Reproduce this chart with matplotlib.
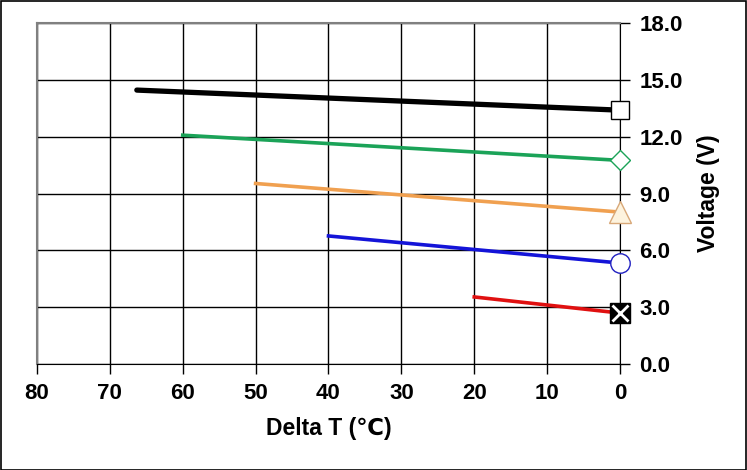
import matplotlib.pyplot as plt
from matplotlib.patches import Rectangle

plt.rcParams['font.family'] = ['Liberation Sans', 'DejaVu Sans', 'Noto Sans CJK SC']

# series: start delta T -> end at 0
black_x = [66.3, 0]
black_y = [14.46, 13.4]
green_x = [60, 0]
green_y = [12.08, 10.75]
orange_x = [50, 0]
orange_y = [9.53, 8.02]
blue_x = [40, 0]
blue_y = [6.76, 5.33]
red_x = [20, 0]
red_y = [3.54, 2.69]

x_ticks = [80, 70, 60, 50, 40, 30, 20, 10, 0]
y_ticks = [0.0, 3.0, 6.0, 9.0, 12.0, 15.0, 18.0]

fig = plt.figure(figsize=(7.47, 4.70), dpi=100)
fig.patches.append(Rectangle((0.001, 0.001), 0.997, 0.996, transform=fig.transFigure,
                             fill=False, edgecolor='black', linewidth=1.2))
ax = fig.add_axes([0.0495, 0.2255, 0.7805, 0.7255])

ax.plot(black_x, black_y, color='black', linewidth=3.8, solid_capstyle='round', zorder=3)
ax.plot(green_x, green_y, color='#1ba358', linewidth=2.6, zorder=3)
ax.plot(orange_x, orange_y, color='#f0a050', linewidth=2.6, zorder=3)
ax.plot(blue_x, blue_y, color='#1414d8', linewidth=2.6, zorder=3)
ax.plot(red_x, red_y, color='#e01010', linewidth=2.6, zorder=3)

ax.plot(black_x[-1:], black_y[-1:], marker='s', markersize=13.5, markerfacecolor='white',
        markeredgecolor='black', markeredgewidth=1.0, clip_on=False, zorder=5)
ax.plot(green_x[-1:], green_y[-1:], marker='D', markersize=10.5, markerfacecolor='white',
        markeredgecolor='#1ba358', markeredgewidth=1.0, clip_on=False, zorder=5)
ax.plot(orange_x[-1:], orange_y[-1:], marker='^', markersize=16, markerfacecolor='#fdf3de',
        markeredgecolor='#d8a878', markeredgewidth=1.0, clip_on=False, zorder=5)
ax.plot(blue_x[-1:], blue_y[-1:], marker='o', markersize=14, markerfacecolor='white',
        markeredgecolor='#2020c0', markeredgewidth=1.0, clip_on=False, zorder=5)
ax.plot(red_x[-1:], red_y[-1:], marker='s', markersize=15, markerfacecolor='black',
        markeredgecolor='black', clip_on=False, zorder=5)
ax.plot(red_x[-1:], red_y[-1:], marker='x', markersize=12, markeredgecolor='white',
        markeredgewidth=2.0, clip_on=False, zorder=6)

ax.set_xlim(80, 0)
ax.set_ylim(0, 18)
ax.set_xticks(x_ticks)
ax.set_xticklabels([str(t) for t in x_ticks])
ax.set_yticks(y_ticks)
ax.set_yticklabels(['%.1f' % t for t in y_ticks])
ax.yaxis.tick_right()
ax.yaxis.set_label_position('right')

ax.grid(True, color='black', linewidth=1.0)
ax.set_axisbelow(True)
ax.tick_params(axis='both', direction='out', length=7, width=1.0, color='black',
               labelsize=16, pad=7)
for lbl in ax.get_xticklabels() + ax.get_yticklabels():
    lbl.set_fontweight('bold')

ax.spines['left'].set_color('#808080')
ax.spines['top'].set_color('#808080')
ax.spines['left'].set_linewidth(1.5)
ax.spines['top'].set_linewidth(1.5)
ax.spines['bottom'].set_color('black')
ax.spines['right'].set_color('black')

ax.set_xlabel('Delta T (\u2103)', fontsize=16.5, fontweight='bold', labelpad=9)
ax.set_ylabel('Voltage (V)', fontsize=16.5, fontweight='bold', labelpad=10)

fig.savefig('out.png', dpi=100)
